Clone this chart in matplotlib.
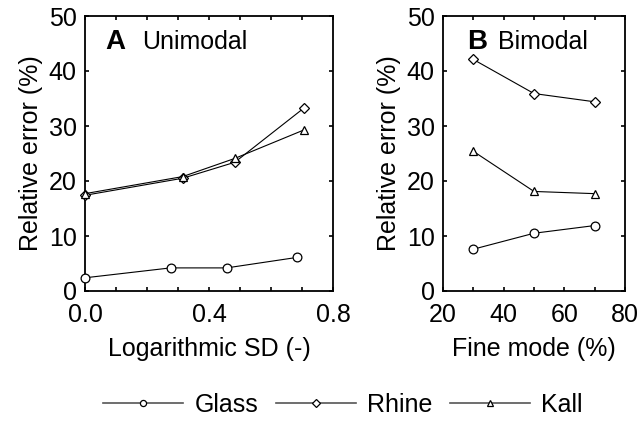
import matplotlib
matplotlib.use("Agg")
import matplotlib.pyplot as plt
import matplotlib.lines as mlines
from matplotlib.ticker import MultipleLocator

plt.rcParams['font.family'] = ['Liberation Sans', 'DejaVu Sans']

# Panel A data (Unimodal)
sd_glass = [0.0, 0.276, 0.457, 0.683]
glass_a = [2.4, 4.2, 4.2, 6.1]
sd_rhine = [0.0, 0.315, 0.483, 0.707]
rhine_a = [17.4, 20.5, 23.4, 33.3]
sd_kall = [0.0, 0.315, 0.483, 0.707]
kall_a = [17.7, 20.8, 24.1, 29.3]

# Panel B data (Bimodal)
fine = [30, 50, 70]
glass_b = [7.6, 10.5, 11.9]
rhine_b = [42.1, 35.9, 34.4]
kall_b = [25.4, 18.1, 17.7]

series_names = ["Glass", "Rhine", "Kall"]
markers = ["o", "D", "^"]
msizes = [6.3, 5.2, 6.0]

fig = plt.figure(figsize=(6.41, 4.25), dpi=100)
axA = fig.add_axes([85/641, 1-291/425, 248/641, 275/425])
axB = fig.add_axes([443/641, 1-291/425, 182/641, 275/425])

lw = 0.8
for x, y, m, ms, name in zip([sd_glass, sd_rhine, sd_kall], [glass_a, rhine_a, kall_a], markers, msizes, series_names):
    axA.plot(x, y, color='black', lw=lw, marker=m, ms=ms, mfc='white', mec='black', mew=0.9,
             label=name, clip_on=False, zorder=3)
for y, m, ms in zip([glass_b, rhine_b, kall_b], markers, msizes):
    axB.plot(fine, y, color='black', lw=lw, marker=m, ms=ms, mfc='white', mec='black', mew=0.9,
             clip_on=False, zorder=3)

fs = 18
axA.set_xlim(0, 0.8)
axA.set_xticks([0.0, 0.4, 0.8])
axA.set_xticklabels(["0.0", "0.4", "0.8"])
axA.xaxis.set_minor_locator(MultipleLocator(0.1))
axA.set_xlabel("Logarithmic SD (-)", fontsize=fs, labelpad=7)

axB.set_xlim(20, 80)
axB.set_xticks([20, 40, 60, 80])
axB.xaxis.set_minor_locator(MultipleLocator(10))
axB.set_xlabel("Fine mode (%)", fontsize=fs, labelpad=7)

for ax in (axA, axB):
    ax.set_ylim(0, 50)
    ax.set_yticks([0, 10, 20, 30, 40, 50])
    ax.set_ylabel("Relative error (%)", fontsize=fs, labelpad=4)
    ax.tick_params(which='both', direction='in', top=True, right=True, labelsize=fs, width=1.2)
    ax.tick_params(axis='x', which='both', pad=9)
    ax.tick_params(axis='y', which='both', pad=6)
    ax.tick_params(which='major', length=3)
    ax.tick_params(which='minor', length=3)
    for s in ax.spines.values():
        s.set_linewidth(1.3)

axA.text(0.08, 0.905, "A", transform=axA.transAxes, fontsize=20, fontweight='bold', va='center', ha='left')
axA.text(0.23, 0.905, "Unimodal", transform=axA.transAxes, fontsize=fs, va='center', ha='left')
axB.text(0.13, 0.905, "B", transform=axB.transAxes, fontsize=20, fontweight='bold', va='center', ha='left')
axB.text(0.30, 0.905, "Bimodal", transform=axB.transAxes, fontsize=fs, va='center', ha='left')

leg_handles = [mlines.Line2D([], [], color='#555555', lw=1.2, marker=m, ms=ms*0.7, mfc='white', mec='black', mew=0.9)
               for m, ms in zip(markers, msizes)]
fig.legend(leg_handles, series_names, loc='center', bbox_to_anchor=(0.535, 0.048), ncol=3, frameon=False,
           fontsize=fs, handlelength=3.2, handletextpad=0.45, columnspacing=0.7)

fig.savefig("out.png", dpi=100)
